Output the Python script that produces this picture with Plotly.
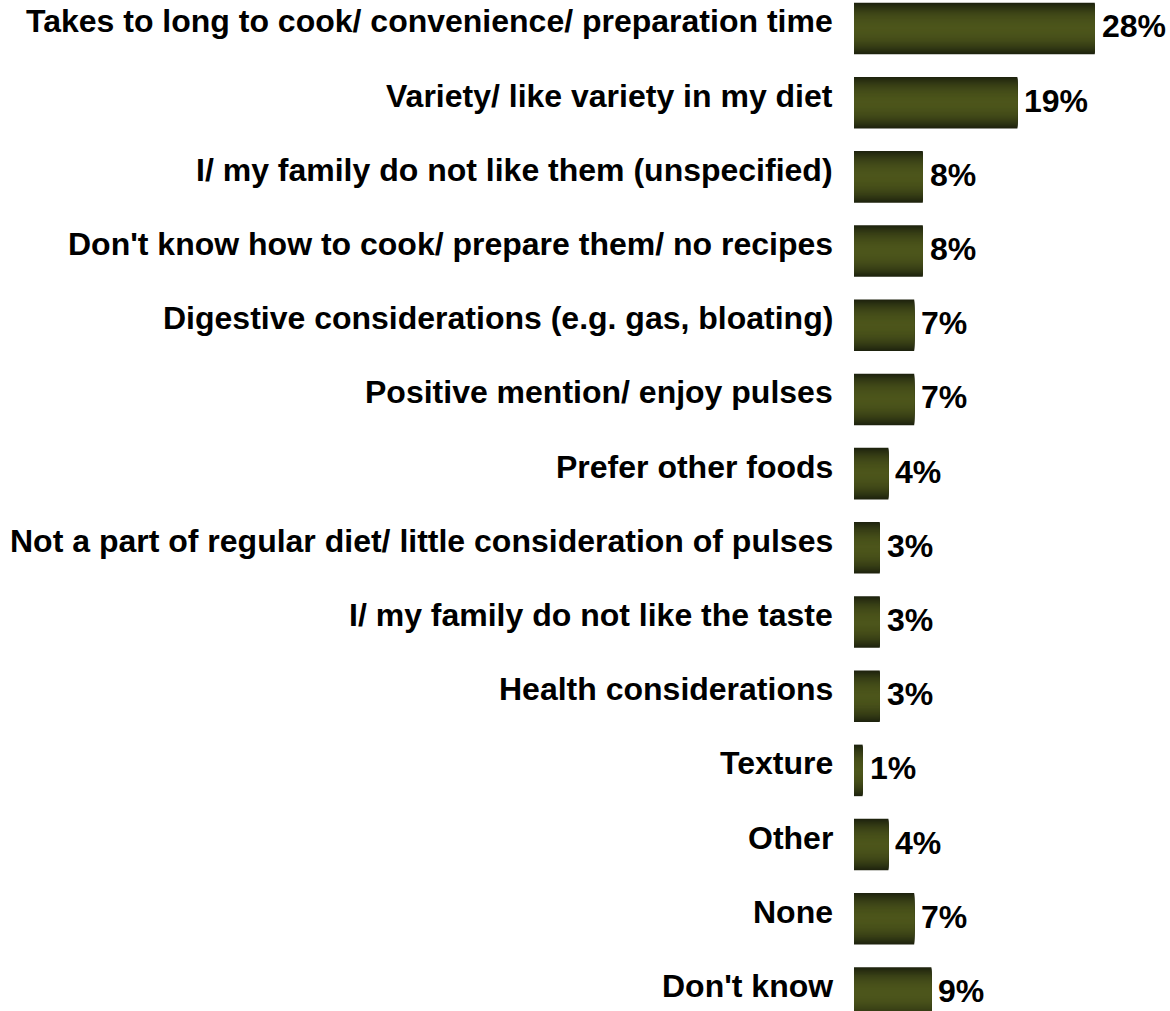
import plotly.graph_objects as go

# Reasons given, top to bottom, with share of respondents (%)
categories = [
    "Takes to long to cook/ convenience/ preparation time",
    "Variety/ like variety in my diet",
    "I/ my family do not like them (unspecified)",
    "Don't know how to cook/ prepare them/ no recipes",
    "Digestive considerations (e.g. gas, bloating)",
    "Positive mention/ enjoy pulses",
    "Prefer other foods",
    "Not a part of regular diet/ little consideration of pulses",
    "I/ my family do not like the taste",
    "Health considerations",
    "Texture",
    "Other",
    "None",
    "Don't know",
]
values = [28, 19, 8, 8, 7, 7, 4, 3, 3, 3, 1, 4, 7, 9]

FONT = "Arial, Liberation Sans, Helvetica, sans-serif"
FONT_SIZE = 32
DARK = (0x1e, 0x23, 0x0e)
LIGHT = (0x4c, 0x55, 0x1b)
BAR_WIDTH = 0.695
LAYERS = 26


def mix(t):
    r = [round(DARK[i] + (LIGHT[i] - DARK[i]) * t) for i in range(3)]
    return f"rgb({r[0]},{r[1]},{r[2]})"


fig = go.Figure()

# Stack progressively narrower bars so the fill shades from dark edges
# to a lighter olive band through the middle of each bar.
for k in range(LAYERS):
    frac = 1 - k / LAYERS          # relative half-height of this layer
    t = 1 - frac ** 2.2
    fig.add_trace(go.Bar(
        x=values,
        y=categories,
        orientation="h",
        width=BAR_WIDTH * frac,
        marker=dict(color=mix(t), line=dict(width=0)),
        hoverinfo="skip" if k else "x+y",
        showlegend=False,
    ))

for cat, val in zip(categories, values):
    # category label, right-aligned just left of the bar baseline
    fig.add_annotation(
        x=0, y=cat, text=f"<b>{cat}</b>",
        xanchor="right", yanchor="middle", xshift=-19, yshift=7,
        showarrow=False,
        font=dict(family=FONT, size=FONT_SIZE, color="#000000"),
    )
    # value label at the bar end
    fig.add_annotation(
        x=val, y=cat, text=f"<b>{val}%</b>",
        xanchor="left", yanchor="middle", xshift=5, yshift=2,
        showarrow=False,
        font=dict(family=FONT, size=FONT_SIZE, color="#000000"),
    )

px_per_unit = 8.6
plot_w = 1170 - 854
fig.update_layout(
    width=1170,
    height=1011,
    margin=dict(l=854, r=0, t=0, b=0),
    paper_bgcolor="white",
    plot_bgcolor="white",
    barmode="overlay",
    xaxis=dict(
        range=[0, plot_w / px_per_unit],
        visible=False,
        showgrid=False,
        zeroline=False,
    ),
    yaxis=dict(
        categoryorder="array",
        categoryarray=categories,
        range=[13.243, -0.384],
        showgrid=False,
        zeroline=False,
        showline=False,
        showticklabels=False,
        ticks="",
    ),
)

fig.write_html("out.html")
